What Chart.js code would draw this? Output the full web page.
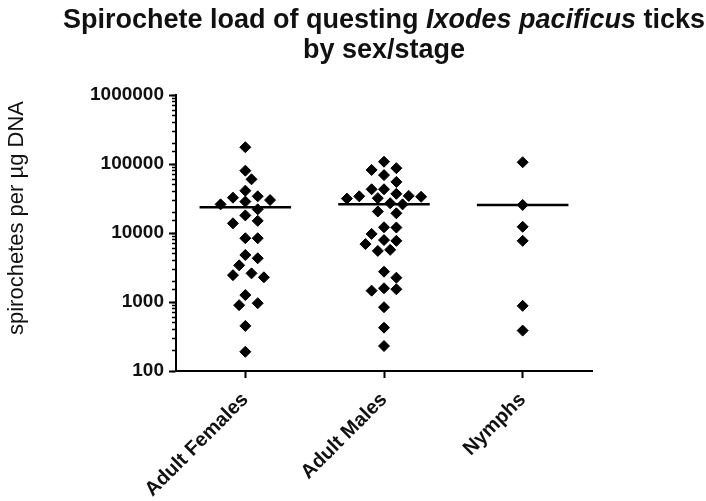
<!DOCTYPE html>
<html>
<head>
<meta charset="utf-8">
<script src="https://cdn.jsdelivr.net/npm/chart.js@4.4.1/dist/chart.umd.min.js"></script>
<style>
  html, body { margin: 0; padding: 0; background: #fff; }
  #wrap { width: 706px; height: 501px; }
</style>
</head>
<body>
<div id="wrap"><canvas id="loadChart" width="706" height="501"></canvas></div>
<script>
// ===== DATA =====
const categories = ["Adult Females", "Adult Males", "Nymphs"];

// spirochetes per ug DNA, one value per tick
const femaleLoads = [175000, 80000, 60000, 41000, 34000, 32500, 30000, 28500, 26000, 22000,
  18000, 15000, 13800, 8400, 8400, 4800, 4300, 3400, 2600, 2450, 2280, 1260, 960, 900, 450, 190];
const maleLoads = [108000, 87000, 82000, 69000, 55000, 43000, 43000, 37000, 34500, 34000,
  33500, 32000, 31500, 27000, 26000, 20500, 19300, 12100, 12000, 9700, 7900, 7700, 6900,
  5700, 5500, 2750, 2250, 1580, 1530, 1460, 840, 425, 230];
const nymphLoads = [106000, 25500, 12300, 7700, 880, 385];

const yTicks = [100, 1000, 10000, 100000, 1000000];

const titleLines = [
  [["Spirochete load of questing ", false], ["Ixodes pacificus", true], [" ticks", false]],
  [["by sex/stage", false]]
];
const yTitle = "spirochetes per \u00b5g DNA";

// ===== LAYOUT / STYLE =====
const FONT = "'Liberation Sans', Arial, sans-serif";
const INK = "#000";
const PX_PER_CAT = 139;     // plot width / 3 categories
const PX_PER_DECADE = 69;   // plot height / 4 decades
const SLOT = 6.2;           // horizontal step of the scatter columns (px)
const MIN_GAP = 10.5;       // centres closer than this (px) overlap

// simple beeswarm: largest values first, push sideways until no overlap
function swarm(values) {
  const placed = [];
  const offsets = new Array(values.length);
  const order = values.map((v, i) => i).sort((a, b) => values[b] - values[a]);
  order.forEach(i => {
    const py = Math.log10(values[i]) * PX_PER_DECADE;
    for (let k = 0; k < 60; k++) {
      const px = k === 0 ? 0 : (k % 2 ? 1 : -1) * Math.ceil(k / 2) * SLOT;
      const free = placed.every(p => Math.hypot(p.x - px, p.y - py) >= MIN_GAP);
      if (free) {
        placed.push({ x: px, y: py });
        offsets[i] = px / PX_PER_CAT;
        break;
      }
    }
  });
  return offsets;
}

const mean = arr => arr.reduce((s, v) => s + v, 0) / arr.length;

const groups = [femaleLoads, maleLoads, nymphLoads];
const datasets = [];

groups.forEach((vals, gi) => {
  const offs = swarm(vals);
  datasets.push({
    type: "scatter",
    label: categories[gi],
    data: vals.map((v, i) => ({ x: gi + offs[i], y: v })),
    pointStyle: "rectRot",
    pointRadius: 5.5,
    pointHoverRadius: 5.5,
    borderWidth: 1,
    backgroundColor: INK,
    borderColor: INK
  });
});

groups.forEach((vals, gi) => {
  const m = mean(vals);
  datasets.push({
    type: "line",
    label: categories[gi] + " mean",
    data: [{ x: gi - 0.33, y: m }, { x: gi + 0.33, y: m }],
    borderColor: INK,
    borderWidth: 2.5,
    pointRadius: 0,
    fill: false
  });
});

// ===== TITLE (ITALIC SPECIES NAME) AND Y AXIS TITLE =====
const textPlugin = {
  id: "textPlugin",
  afterDraw(chart) {
    const ctx = chart.ctx;
    const area = chart.chartArea;
    const cx = (area.left + area.right) / 2;
    const baselines = [28, 58];
    ctx.save();
    ctx.fillStyle = "#111";
    ctx.textBaseline = "alphabetic";
    ctx.textAlign = "left";
    titleLines.forEach((segs, li) => {
      const fontOf = it => (it ? "italic " : "") + "bold 27px " + FONT;
      let total = 0;
      segs.forEach(([txt, it]) => { ctx.font = fontOf(it); total += ctx.measureText(txt).width; });
      let x = cx - total / 2;
      segs.forEach(([txt, it]) => {
        ctx.font = fontOf(it);
        ctx.fillText(txt, x, baselines[li]);
        x += ctx.measureText(txt).width;
      });
    });

    ctx.translate(17, 218);
    ctx.rotate(-Math.PI / 2);
    ctx.font = "22px " + FONT;
    ctx.textAlign = "center";
    ctx.textBaseline = "middle";
    ctx.fillText(yTitle, 0, 0);
    ctx.restore();
  }
};

// ===== CHART =====
const ctx = document.getElementById("loadChart").getContext("2d");

const loadChart = new Chart(ctx, {
  data: { datasets: datasets },
  plugins: [textPlugin],
  options: {
    responsive: false,
    animation: false,
    layout: { padding: { top: 95, right: 114, left: 0, bottom: 0 } },
    plugins: {
      legend: { display: false },
      tooltip: { enabled: false },
      title: { display: false }
    },
    scales: {
      x: {
        type: "linear",
        min: -0.5,
        max: 2.5,
        afterBuildTicks: scale => { scale.ticks = categories.map((c, i) => ({ value: i })); },
        afterFit: scale => { scale.height = 130; },
        border: { display: true, color: INK, width: 2 },
        grid: { drawOnChartArea: false, tickLength: 7, tickWidth: 2, tickColor: INK },
        ticks: {
          autoSkip: false,
          minRotation: 45,
          maxRotation: 45,
          padding: 10,
          color: "#111",
          font: { family: FONT, size: 20, weight: "bold" },
          callback: (value) => categories[value]
        }
      },
      y: {
        type: "logarithmic",
        position: "left",
        weight: 1,
        min: yTicks[0],
        max: yTicks[yTicks.length - 1],
        afterBuildTicks: scale => { scale.ticks = yTicks.map(v => ({ value: v, major: true })); },
        afterFit: scale => { scale.width = 176; },
        border: { display: true, color: INK, width: 2 },
        grid: { drawOnChartArea: false, tickLength: 7, tickWidth: 2, tickColor: INK },
        ticks: {
          padding: 5,
          color: "#111",
          font: { family: FONT, size: 19, weight: "bold" },
          callback: v => String(v)
        }
      },
      yMinor: {
        type: "logarithmic",
        position: "left",
        weight: 0,
        min: yTicks[0],
        max: yTicks[yTicks.length - 1],
        afterFit: scale => { scale.width = 0; },
        border: { display: false },
        grid: { drawOnChartArea: false, tickLength: 4, tickWidth: 1.5, tickColor: INK },
        ticks: { display: false, autoSkip: false }
      }
    }
  }
});
</script>
</body>
</html>
